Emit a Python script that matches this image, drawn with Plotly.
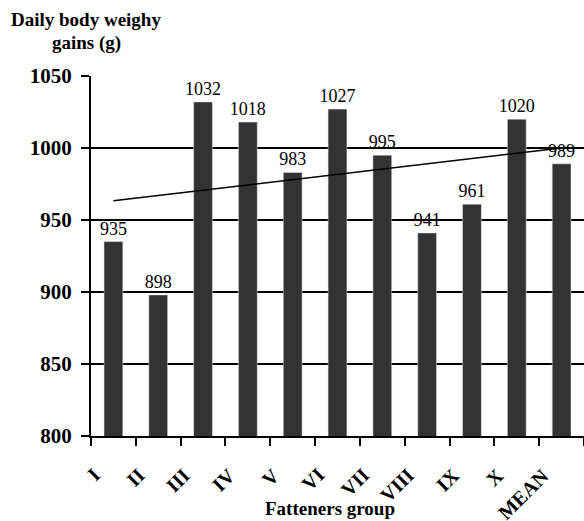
import numpy as np
import plotly.graph_objects as go

groups = ["I", "II", "III", "IV", "V", "VI", "VII", "VIII", "IX", "X", "MEAN"]
gains = [935, 898, 1032, 1018, 983, 1027, 995, 941, 961, 1020, 989]
y_ticks = [800, 850, 900, 950, 1000, 1050]

xs = np.arange(1, len(gains) + 1)
slope, intercept = np.polyfit(xs, gains, 1)
trend = [slope * xs[0] + intercept, slope * xs[-1] + intercept]

FONT = "Times New Roman, Liberation Serif, serif"

fig = go.Figure()
fig.add_trace(go.Bar(
    x=groups, y=gains, marker_color="#333333", width=0.42,
    text=[str(v) for v in gains], textposition="outside", cliponaxis=False,
    constraintext="none",
    textfont=dict(family=FONT, size=18, color="black"),
))
fig.add_trace(go.Scatter(
    x=[groups[0], groups[-1]], y=trend, mode="lines",
    line=dict(color="black", width=1.5),
))

tick_annotations = [
    dict(text=f"<b>{g}</b>", xref="x", yref="paper", x=g, y=0,
         xanchor="right", yanchor="top", textangle=-45, showarrow=False,
         xshift=-6, yshift=-25, font=dict(family=FONT, size=20))
    for g in groups
]

fig.update_layout(
    width=584, height=521,
    margin=dict(l=91, r=0, t=76, b=85, autoexpand=False),
    plot_bgcolor="white", paper_bgcolor="white",
    showlegend=False,
    font=dict(family=FONT, color="black"),
    xaxis=dict(
        automargin=False,
        type="category", categoryorder="array", categoryarray=groups,
        range=[-0.5, len(groups) - 0.5],
        tickson="boundaries", ticks="outside", ticklen=8, tickwidth=2, tickcolor="black",
        showline=True, linecolor="black", linewidth=2,
        showticklabels=False,
    ),
    yaxis=dict(
        automargin=False,
        range=[800, 1050], tickvals=y_ticks,
        ticks="outside", ticklen=8, tickwidth=2, tickcolor="black",
        showline=True, linecolor="black", linewidth=2,
        showgrid=True, gridcolor="black", gridwidth=2, zeroline=False,
        tickfont=dict(family=FONT, size=21, weight="bold"),
        ticklabelstandoff=5,
    ),
    annotations=[
        dict(
            text="<b>Daily body weighy</b>", xref="paper", yref="paper",
            x=-0.0101, y=1.156, xanchor="center", yanchor="middle", showarrow=False,
            font=dict(family=FONT, size=19),
        ),
        dict(
            text="<b>gains (g)</b>", xref="paper", yref="paper",
            x=-0.0101, y=1.092, xanchor="center", yanchor="middle", showarrow=False,
            font=dict(family=FONT, size=19),
        ),
        dict(
            text="<b>Fatteners group</b>", xref="paper", yref="paper",
            x=0.485, y=-0.2, xanchor="center", yanchor="middle", showarrow=False,
            font=dict(family=FONT, size=19),
        ),
    ] + tick_annotations,
)
fig.write_html("out.html", config={"displayModeBar": False},
               post_script="document.body.style.margin='0';document.body.style.padding='0';")
